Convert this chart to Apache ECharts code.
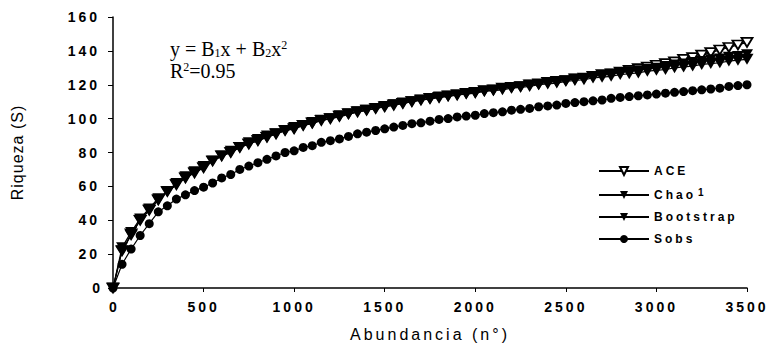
<!DOCTYPE html>
<html>
<head>
<meta charset="utf-8">
<script src="https://cdn.jsdelivr.net/npm/echarts@6/dist/echarts.min.js"></script>
<style>
  html, body { margin: 0; padding: 0; background: #fff; }
  #chart { width: 770px; height: 361px; }
</style>
</head>
<body>
<div id="chart"></div>
<script>
// Sampled abundance (number of individuals)
const abundance = [
  0, 50, 100, 150, 200, 250, 300, 350, 400, 450,
  500, 550, 600, 650, 700, 750, 800, 850, 900, 950,
  1000, 1050, 1100, 1150, 1200, 1250, 1300, 1350, 1400, 1450,
  1500, 1550, 1600, 1650, 1700, 1750, 1800, 1850, 1900, 1950,
  2000, 2050, 2100, 2150, 2200, 2250, 2300, 2350, 2400, 2450,
  2500, 2550, 2600, 2650, 2700, 2750, 2800, 2850, 2900, 2950,
  3000, 3050, 3100, 3150, 3200, 3250, 3300, 3350, 3400, 3450,
  3500
];

// Richness estimators
const ace = [
  0, 22, 32, 40, 46, 52, 57, 61, 65, 68,
  71, 75, 78, 80, 83, 85, 87, 89, 91, 93,
  94, 96, 97.5, 99, 100, 101.5, 103, 104, 105, 106,
  107, 108, 109, 110, 111, 112, 112.5, 113.5, 114, 115,
  115.5, 116.5, 117, 118, 118.5, 119, 120, 120.5, 121.5, 122,
  122.5, 123.5, 124, 125, 126, 126.5, 127.5, 128.5, 129.5, 130.5,
  131.5, 132.5, 133.5, 135, 136, 137.5, 139, 140.5, 142, 143.5,
  145
];
const chao1 = [
  0, 24, 33, 41, 47, 53, 57, 62, 66, 69,
  72, 75, 78, 81, 83, 86, 88, 90, 91, 93,
  95, 96, 98, 99, 100, 102, 103, 104, 105, 106,
  107.5, 108.5, 109.5, 110, 111, 112, 113, 113.5, 114, 115,
  115.5, 116.5, 117, 118, 118.5, 119, 120, 120.5, 121.5, 122,
  122.5, 123.5, 124, 125, 125.5, 126.5, 127, 128, 128.5, 129.5,
  130, 131, 132, 132.5, 133.5, 134, 135, 135.5, 136.5, 137,
  138
];
const bootstrap = [
  0, 22, 31, 40, 46, 52, 57, 61, 65, 68,
  71, 75, 78, 80, 83, 85, 87, 89, 91, 93,
  94, 96, 97, 99, 100, 101, 102.5, 104, 105, 106,
  107, 108, 109, 110, 111, 111.5, 112.5, 113, 114, 114.5,
  115, 116, 116.5, 117, 118, 118.5, 119, 120, 120.5, 121,
  122, 122.5, 123, 124, 124.5, 125, 126, 126.5, 127, 128,
  128.5, 129, 130, 130.5, 131, 132, 132.5, 133, 134, 134.5,
  135
];
const sobs = [
  0, 14, 23, 31, 38, 45, 48.5, 52.5, 55, 57.5,
  59.5, 62, 65, 67, 70, 72, 74, 76, 78, 80,
  81, 83, 84, 86, 87, 88, 89.5, 91, 92, 93,
  94, 95, 96, 97, 97.5, 98.5, 99.5, 100, 101, 101.5,
  102, 103, 103.5, 104, 105, 105.5, 106, 107, 107.5, 108,
  109, 109.5, 110, 110.5, 111, 112, 112.5, 113, 113.5, 114,
  114.5, 115, 115.5, 116, 116.5, 117, 117.5, 118, 119, 119.5,
  120
];

const legendNames = ['ACE', 'Chao', 'Bootstrap', 'Sobs'];

const pairs = ys => abundance.map((x, i) => [x, ys[i]]);

const SANS = '"Liberation Sans", Arial, sans-serif';
const SERIF = '"Liberation Serif", "Times New Roman", serif';

function curve(name, values, opts) {
  return Object.assign({
    name: name,
    type: 'line',
    data: pairs(values),
    symbol: 'triangle',
    symbolRotate: 180,
    symbolSize: [12, 10],
    showSymbol: true,
    showAllSymbol: true,
    lineStyle: { color: '#000', width: 1.2 },
    itemStyle: { color: '#000' },
    emphasis: { disabled: true }
  }, opts || {});
}

// Fitted-model annotation, one text element per line
const eqRich = {
  n: { fontFamily: SERIF, fontSize: 20, lineHeight: 20, fill: '#000' },
  sub: { fontFamily: SERIF, fontSize: 12, lineHeight: 20, verticalAlign: 'bottom', fill: '#000' },
  sup: { fontFamily: SERIF, fontSize: 12, lineHeight: 20, verticalAlign: 'top', fill: '#000' }
};

const chart = echarts.init(document.getElementById('chart'), null, { renderer: 'svg' });

chart.setOption({
  animation: false,
  backgroundColor: '#fff',
  grid: { left: 113, right: 23, top: 17, bottom: 73 },
  xAxis: {
    type: 'value',
    min: 0,
    max: 3500,
    interval: 500,
    name: 'Abundancia (n°)',
    nameLocation: 'middle',
    nameGap: 38,
    nameTextStyle: { fontFamily: SANS, fontSize: 16, color: '#000' },
    axisLine: { lineStyle: { color: '#000', width: 1.5 } },
    axisTick: { length: 4, lineStyle: { color: '#000', width: 1 } },
    axisLabel: {
      margin: 12, fontFamily: SANS, fontSize: 14, fontWeight: 'bold', color: '#000',
      formatter: v => String(v)
    },
    splitLine: { show: false }
  },
  yAxis: {
    type: 'value',
    min: 0,
    max: 160,
    interval: 20,
    name: 'Riqueza (S)',
    nameLocation: 'middle',
    nameRotate: 90,
    nameGap: 88,
    nameTextStyle: { fontFamily: SANS, fontSize: 16, color: '#000' },
    axisLine: { show: true, lineStyle: { color: '#000', width: 1.5 } },
    axisTick: { show: true, length: 5, lineStyle: { color: '#000', width: 1 } },
    axisLabel: {
      margin: 13, fontFamily: SANS, fontSize: 14, fontWeight: 'bold', color: '#000',
      formatter: v => String(v)
    },
    splitLine: { show: false }
  },
  legend: {
    orient: 'vertical',
    left: 593,
    top: 160,
    itemWidth: 50,
    itemHeight: 10,
    itemGap: 10,
    data: legendNames,
    selectedMode: false,
    formatter: n => n === 'Chao' ? 'Chao{sup|1}' : n,
    textStyle: {
      fontFamily: SANS,
      fontSize: 12,
      fontWeight: 'bold',
      color: '#000',
      rich: {
        sup: { fontFamily: SANS, fontSize: 10, fontWeight: 'bold', verticalAlign: 'top', padding: [0, 0, 6, 14] }
      }
    }
  },
  graphic: [{
    type: 'text',
    left: 170,
    top: 39,
    style: {
      text: '{n|y = B}{sub|1}{n|x + B}{sub|2}{n|x}{sup|2}',
      fill: '#000',
      rich: eqRich
    }
  }, {
    type: 'text',
    left: 170,
    top: 61,
    style: {
      text: '{n|R}{sup|2}{n|=0.95}',
      fill: '#000',
      rich: eqRich
    }
  }],
  series: [
    curve('ACE', ace, {
      symbolSize: [11, 9],
      itemStyle: { color: '#fff', borderColor: '#000', borderWidth: 1.8 }
    }),
    curve('Chao', chao1),
    curve('Bootstrap', bootstrap, { symbolSize: [13, 11] }),
    curve('Sobs', sobs, { symbol: 'circle', symbolRotate: 0, symbolSize: 9 })
  ]
});

// Wide tracking for the sans-serif labels
function applyTracking() {
  document.querySelectorAll('#chart svg text').forEach(t => {
    const s = (t.textContent || '').trim();
    let ls = 0;
    if (/^\d+$/.test(s) && s.length > 1) ls = 3;
    else if (s.indexOf('Abundancia') === 0) ls = 3;
    else if (s.indexOf('Riqueza') === 0) ls = 1;
    else if (legendNames.indexOf(s) >= 0) ls = 3;
    if (ls) t.setAttribute('letter-spacing', ls);
  });
}
applyTracking();
chart.on('finished', applyTracking);
</script>
</body>
</html>
